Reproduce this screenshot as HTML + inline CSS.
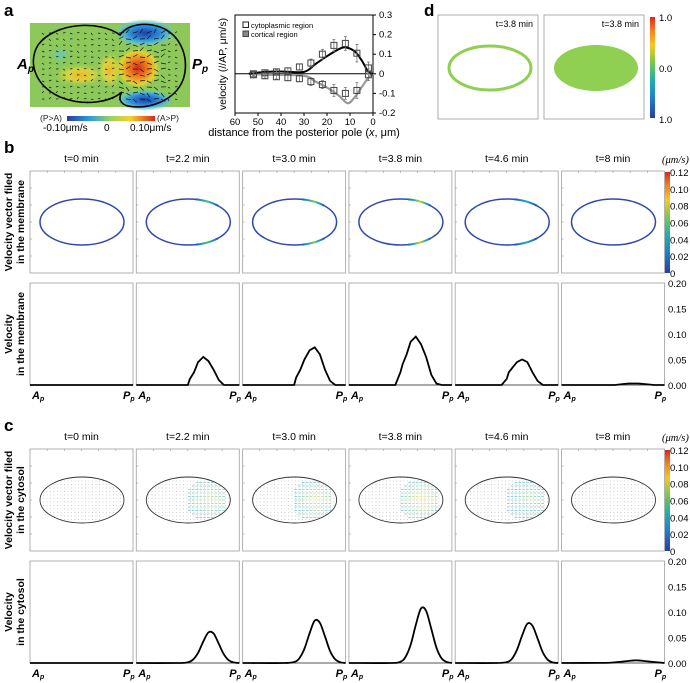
<!DOCTYPE html>
<html><head><meta charset="utf-8">
<style>
html,body{margin:0;padding:0;background:#fff;}
svg{display:block;font-family:"Liberation Sans",Arial,sans-serif;}
</style></head>
<body>
<svg id="fig" width="690" height="683" viewBox="0 0 690 683" xmlns="http://www.w3.org/2000/svg">
<defs>
  <linearGradient id="jetV" x1="0" y1="1" x2="0" y2="0">
    <stop offset="0" stop-color="#2a3b9f"/><stop offset="0.2" stop-color="#1f7fd0"/>
    <stop offset="0.38" stop-color="#22b0a8"/><stop offset="0.55" stop-color="#7ac74f"/>
    <stop offset="0.72" stop-color="#f5c925"/><stop offset="0.87" stop-color="#f4801f"/>
    <stop offset="1" stop-color="#e0231c"/>
  </linearGradient>
  <linearGradient id="jetH" x1="0" y1="0" x2="1" y2="0">
    <stop offset="0" stop-color="#2a3b9f"/><stop offset="0.25" stop-color="#2a9be0"/>
    <stop offset="0.5" stop-color="#9ed25a"/><stop offset="0.72" stop-color="#f6d12a"/>
    <stop offset="1" stop-color="#d8281b"/>
  </linearGradient>
  <radialGradient id="redBlob"><stop offset="0" stop-color="#d8281b"/><stop offset="0.45" stop-color="#f08a22"/><stop offset="0.75" stop-color="#f3d42c" stop-opacity="0.8"/><stop offset="1" stop-color="#8dc85a" stop-opacity="0"/></radialGradient>
  <radialGradient id="yelBlob"><stop offset="0" stop-color="#f2b52a"/><stop offset="0.5" stop-color="#e6d83a" stop-opacity="0.8"/><stop offset="1" stop-color="#8dc85a" stop-opacity="0"/></radialGradient>
  <radialGradient id="blueBlob"><stop offset="0" stop-color="#1d3fa8"/><stop offset="0.5" stop-color="#2d8fdc"/><stop offset="0.8" stop-color="#5cc5d8" stop-opacity="0.7"/><stop offset="1" stop-color="#8dc85a" stop-opacity="0"/></radialGradient>
  <radialGradient id="cyanBlob"><stop offset="0" stop-color="#62c8c8"/><stop offset="1" stop-color="#8dc85a" stop-opacity="0"/></radialGradient>
  <pattern id="dots" width="3.5" height="3.5" patternUnits="userSpaceOnUse"><rect x="1" y="1" width="0.9" height="0.9" fill="#c4c4c4"/></pattern>
</defs>
<g id="root"></g>
</svg>
<script>
// ---------- data ----------
const times = ["t=0 min","t=2.2 min","t=3.0 min","t=3.8 min","t=4.6 min","t=8 min"];
const cbTicks = ["0.12","0.10","0.08","0.06","0.04","0.02","0"];
const cbValues = [0.12,0.10,0.08,0.06,0.04,0.02,0];
const velTicks = [0.20,0.15,0.10,0.05,0.00];
// membrane profiles (position along A->P, fraction; velocity um/s)
const memX = [0,0.45,0.5,0.52,0.56,0.6,0.65,0.7,0.75,0.8,0.85,0.9,1];
const mem0 = [0,0,0,0,0,0,0,0,0,0,0,0,0];
const mem22 = [0,0,0,0.012,0.025,0.045,0.055,0.047,0.03,0.01,0,0,0];
const mem30 = [0,0,0,0.015,0.03,0.05,0.068,0.074,0.06,0.03,0.008,0,0];
const mem38 = [0,0,0.025,0.04,0.06,0.085,0.095,0.08,0.055,0.02,0.003,0,0];
const mem46 = [0,0,0.012,0.025,0.035,0.045,0.05,0.045,0.025,0.008,0,0,0];
const mem8 = [0,0,0,0,0.001,0.002,0.003,0.003,0.003,0.002,0.001,0,0];
// cytosol profiles
const cytX = [0,0.4,0.5,0.55,0.6,0.65,0.7,0.75,0.8,0.85,0.9,0.95,1];
const cyt0 = [0,0,0,0,0,0,0,0,0,0,0,0,0];
const cyt22 = [0,0,0.0014,0.0065,0.02,0.042,0.06,0.058,0.038,0.017,0.005,0.001,0];
const cyt30 = [0,0,0.002,0.009,0.028,0.058,0.083,0.079,0.052,0.023,0.007,0.0014,0];
const cyt38 = [0,0,0.0025,0.012,0.036,0.075,0.107,0.102,0.067,0.03,0.009,0.002,0];
const cyt46 = [0,0,0.0018,0.008,0.026,0.054,0.077,0.073,0.048,0.021,0.006,0.001,0];
const cyt8 = [0,0.0003,0.001,0.002,0.003,0.004,0.005,0.005,0.004,0.003,0.002,0.001,0];
// peak color intensity per time (0..0.12)
const memPeak = [0,0.06,0.07,0.085,0.045,0];
// panel a chart
const distCyto = [52,47,42,37,32,27,22,17,12,7,2];
const cytoVals = [0.0,0.005,0.01,0.015,0.035,0.055,0.1,0.145,0.155,0.105,0.03];
const cytoErr = [0.01,0.012,0.012,0.015,0.015,0.02,0.025,0.03,0.035,0.045,0.03];
const cortVals = [-0.005,-0.01,-0.015,-0.02,-0.025,-0.04,-0.055,-0.085,-0.1,-0.085,-0.005];
const cortErr = [0.01,0.012,0.012,0.015,0.015,0.02,0.02,0.03,0.03,0.04,0.03];
const lineDist = [54,47,40,30,25,20,15,12,8,5,2,0];
const blackLine = [0,0.01,0.012,0.01,0.05,0.09,0.125,0.135,0.115,0.07,0.01,0];
const grayDist = [54,45,30,25,20,15,11,8,5,2,0];
const grayLine = [0,-0.005,-0.01,-0.04,-0.07,-0.11,-0.15,-0.12,-0.07,-0.02,0];
const aXTicks = [60,50,40,30,20,10,0];
const aYTicks = [0.3,0.2,0.1,0,-0.1,-0.2];

const NS="http://www.w3.org/2000/svg";
const root=document.getElementById('root');
function el(tag,attrs,parent,text){const e=document.createElementNS(NS,tag);for(const k in attrs)e.setAttribute(k,attrs[k]);if(text!==undefined)e.textContent=text;(parent||root).appendChild(e);return e;}
function jet(t){t=Math.max(0,Math.min(1,t));const s=[[0,[42,59,159]],[0.2,[31,127,208]],[0.38,[34,176,168]],[0.55,[122,199,79]],[0.72,[245,201,37]],[0.87,[244,128,31]],[1,[224,35,28]]];for(let i=1;i<s.length;i++){if(t<=s[i][0]){const a=s[i-1],b=s[i],f=(t-a[0])/(b[0]-a[0]);return 'rgb('+a[1].map((v,j)=>Math.round(v+(b[1][j]-v)*f)).join(',')+')';}}return 'rgb(224,35,28)';}
function smooth(pts){let d='M'+pts[0][0]+','+pts[0][1];for(let i=0;i<pts.length-1;i++){const p0=pts[Math.max(0,i-1)],p1=pts[i],p2=pts[i+1],p3=pts[Math.min(pts.length-1,i+2)];const c1=[p1[0]+(p2[0]-p0[0])/6,p1[1]+(p2[1]-p0[1])/6],c2=[p2[0]-(p3[0]-p1[0])/6,p2[1]-(p3[1]-p1[1])/6];d+=' C'+c1[0].toFixed(2)+','+c1[1].toFixed(2)+' '+c2[0].toFixed(2)+','+c2[1].toFixed(2)+' '+p2[0].toFixed(2)+','+p2[1].toFixed(2);}return d;}

// ---------- panel letters ----------
[['a',4,16],['b',4,153],['c',4,431],['d',424,16]].forEach(([t,x,y])=>{
  const e=el('text',{x:x,y:y,'font-size':17,'font-weight':'bold'},root,t);
  
  
});

// ---------- panel a: heatmap ----------
const ga=el('g',{});


el('rect',{x:30,y:23,width:160,height:84,fill:'#8dc85a'},ga);
el('ellipse',{cx:60,cy:55,rx:14,ry:10,fill:'url(#cyanBlob)'},ga);
el('ellipse',{cx:80,cy:75,rx:28,ry:12,fill:'url(#yelBlob)'},ga);
el('ellipse',{cx:110,cy:70,rx:14,ry:20,fill:'url(#yelBlob)'},ga);
el('ellipse',{cx:138,cy:68,rx:24,ry:22,fill:'url(#redBlob)'},ga);
el('ellipse',{cx:145,cy:33,rx:32,ry:14,fill:'url(#blueBlob)'},ga);
el('ellipse',{cx:145,cy:100,rx:30,ry:11,fill:'url(#blueBlob)'},ga);
const arrows=el('g',{stroke:'#111','stroke-width':0.7},ga);
for(let yy=33;yy<=100;yy+=6){for(let xx=42;xx<=180;xx+=7){
  const inR=xx>118&&xx<162; const s=inR?5:2.5; const ang=((yy-66)/40)*(xx>118?0.6:-0.4)+(((xx*7+yy*3)%11)-5)*0.12;
  el('line',{x1:xx,y1:yy,x2:(xx+s*Math.cos(ang)).toFixed(1),y2:(yy+s*Math.sin(ang)).toFixed(1)},arrows);}}
el('path',{d:'M120,35 C100,20 55,22 38,45 C28,62 34,85 60,97 C85,107 110,102 122,92 C118,98 120,104 128,106 C150,110 175,100 183,80 C190,60 182,35 160,27 C145,22 128,24 120,35 Z',fill:'none',stroke:'#000','stroke-width':1.6},ga);
[['A',17,'ap-label-a'],['P',192,'pp-label-a']].forEach(([t,x,n])=>{
  const e=el('text',{x:x,y:69,'font-size':15,'font-weight':'bold','font-style':'italic'},root);
  
  
  e.innerHTML=t+'<tspan font-size="10" dy="3">p</tspan>';
});
const cba=el('rect',{x:67,y:116,width:88,height:5,fill:'url(#jetH)'});


el('text',{x:40,y:121,'font-size':8.5,fill:'#222'},root,'(P>A)');
el('text',{x:157,y:121,'font-size':8.5,fill:'#222'},root,'(A>P)');
el('text',{x:43,y:131,'font-size':10},root,'-0.10μm/s');
el('text',{x:104,y:131,'font-size':10},root,'0');
el('text',{x:130,y:131,'font-size':10},root,'0.10μm/s');

// ---------- panel a: chart ----------
const ax0=235,ax1=373,ay0=15,ay1=113;
const xa=d=>ax1-d/60*(ax1-ax0);
const ya=v=>ay0+(0.3-v)/0.5*(ay1-ay0);
const gc=el('g',{});


el('rect',{x:ax0,y:ay0,width:ax1-ax0,height:ay1-ay0,fill:'none',stroke:'#000','stroke-width':1},gc);
el('line',{x1:ax0,y1:ya(0),x2:ax1,y2:ya(0),stroke:'#000','stroke-width':1},gc);
aXTicks.forEach(t=>{el('line',{x1:xa(t),y1:ay1,x2:xa(t),y2:ay1+3,stroke:'#000'},gc);
  const e=el('text',{x:xa(t),y:ay1+12,'font-size':9.5,'text-anchor':'middle'},gc,String(t));
  
  });
aYTicks.forEach(t=>{el('line',{x1:ax1,y1:ya(t),x2:ax1+3,y2:ya(t),stroke:'#000'},gc);
  const e=el('text',{x:ax1+6,y:ya(t)+3,'font-size':9.5},gc,String(t));
  
  });
const xt=el('text',{x:304,y:136,'font-size':11,'text-anchor':'middle'},gc);
xt.innerHTML='distance from the posterior pole (<tspan font-style="italic">x</tspan>, μm)';


const yt=el('text',{x:0,y:0,'font-size':10.5,'text-anchor':'middle',transform:'translate(226,64) rotate(-90)'},gc,'velocity (//AP, μm/s)');


const gl=el('path',{d:smooth(grayDist.map((d,i)=>[xa(d),ya(grayLine[i])])),fill:'none',stroke:'#999','stroke-width':2.2},gc);


const bl=el('path',{d:smooth(lineDist.map((d,i)=>[xa(d),ya(blackLine[i])])),fill:'none',stroke:'#000','stroke-width':2},gc);


distCyto.forEach((d,i)=>{
  [[cytoVals[i],cytoErr[i],'cyto'],[cortVals[i],cortErr[i],'cort']].forEach(([v,er,n])=>{
    el('line',{x1:xa(d),y1:ya(v+er),x2:xa(d),y2:ya(v-er),stroke:'#777','stroke-width':0.8},gc);
    el('line',{x1:xa(d)-1.5,y1:ya(v+er),x2:xa(d)+1.5,y2:ya(v+er),stroke:'#777','stroke-width':0.8},gc);
    el('line',{x1:xa(d)-1.5,y1:ya(v-er),x2:xa(d)+1.5,y2:ya(v-er),stroke:'#777','stroke-width':0.8},gc);
    const r=el('rect',{x:xa(d)-3,y:ya(v)-3,width:6,height:6,fill:'none',stroke:'#444','stroke-width':1},gc);
    
    
  });
});
const lg=el('g',{},gc);


el('rect',{x:243,y:22,width:5.5,height:5.5,fill:'#fff',stroke:'#222'},lg);
el('text',{x:251,y:28,'font-size':7.5},lg,'cytoplasmic region');
el('rect',{x:243,y:31,width:5.5,height:5.5,fill:'#888',stroke:'#444'},lg);
el('text',{x:251,y:37,'font-size':7.5},lg,'cortical region');

// ---------- panel d ----------
[[438,490,false,'d-membrane-box'],[544,596,true,'d-cytosol-box']].forEach(([bx,cx,fill,n])=>{
  const b=el('rect',{x:bx,y:15,width:100,height:104,fill:'#fff',stroke:'#999','stroke-width':0.8});
  
  
  el('ellipse',{cx:cx,cy:68,rx:fill?42:41,ry:fill?23:22,fill:fill?'#8fcf52':'none',stroke:'#8fcf52','stroke-width':fill?0:3});
  el('text',{x:bx+95,y:27,'font-size':9,'text-anchor':'end'},root,'t=3.8 min');
});
const cbd=el('rect',{x:650,y:17,width:5,height:101,fill:'url(#jetV)'});


el('text',{x:659,y:21,'font-size':9.5},root,'1.0');
el('text',{x:659,y:72,'font-size':9.5},root,'0.0');
el('text',{x:659,y:123,'font-size':9.5},root,'1.0');

// ---------- panels b & c ----------
const boxX=i=>30+i*106.3, BW=103;
const memSeries=[mem0,mem22,mem30,mem38,mem46,mem8];
const cytSeries=[cyt0,cyt22,cyt30,cyt38,cyt46,cyt8];
function section(top,kind){
  const topY=top, topH=102, botY=top+112, botH=102;
  const yv=v=>botY+botH-v/0.20*botH;
  times.forEach((t,i)=>{
    const x=boxX(i);
    const tt=el('text',{x:x+BW/2,y:top-9,'font-size':10.5,'text-anchor':'middle'},root,t);
    
    
    const b1=el('rect',{x:x,y:topY,width:BW,height:topH,fill:'#fff',stroke:'#aaa','stroke-width':0.9});
    
    
    for(let k=1;k<6;k++){el('line',{x1:x+k*BW/6,y1:topY,x2:x+k*BW/6,y2:topY+2,stroke:'#999','stroke-width':0.6});
      el('line',{x1:x,y1:topY+k*topH/6,x2:x+2,y2:topY+k*topH/6,stroke:'#999','stroke-width':0.6});}
    const cx=x+52, cy=topY+51;
    const amp=memPeak[i];
    if(kind==='membrane'){
      el('ellipse',{cx:cx,cy:cy,rx:42,ry:23,fill:'none',stroke:'#2e48ad','stroke-width':1.5});
      if(amp>0){
        for(let a=40;a<80;a+=2.5){
          const f=1-Math.abs(a-62)/20; if(f<=0.05)continue;
          const col=jet(amp*f/0.12);
          const t1=a*Math.PI/180, t2=(a+2.5)*Math.PI/180;
          [1,-1].forEach(sg=>{
            el('line',{x1:(cx+42*Math.cos(t1)).toFixed(2),y1:(cy-sg*23*Math.sin(t1)).toFixed(2),x2:(cx+42*Math.cos(t2)).toFixed(2),y2:(cy-sg*23*Math.sin(t2)).toFixed(2),stroke:col,'stroke-width':2});
          });
        }
      }
    } else {
      const clipId='clip'+i+top;
      const cp=el('clipPath',{id:clipId}); el('ellipse',{cx:cx,cy:cy,rx:42,ry:23},cp);
      el('ellipse',{cx:cx,cy:cy,rx:42,ry:23,fill:'url(#dots)'});
      if(amp>0){
        const g=el('g',{'clip-path':'url(#'+clipId+')'});
        for(let r=-21;r<=21;r+=3.5){
          const w=1-Math.abs(r)/24;
          for(let c=0;c<11;c++){
            const xx=cx-4+c*3.8, f=w*(1-Math.abs(c-6.5)/7);
            if(f<=0.12)continue;
            el('line',{x1:xx,y1:cy+r,x2:xx+2.6,y2:cy+r,stroke:jet(0.25+amp*f*1.1/0.12*0.75),'stroke-width':0.9,opacity:0.55},g);
          }
        }
      }
      el('ellipse',{cx:cx,cy:cy,rx:42,ry:23,fill:'none',stroke:'#333','stroke-width':0.9});
    }
    const b2=el('rect',{x:x,y:botY,width:BW,height:botH,fill:'#fff',stroke:'#aaa','stroke-width':0.9});
    
    
    el('line',{x1:x,y1:botY+botH,x2:x+BW,y2:botY+botH,stroke:'#555','stroke-width':1});
    const xs=kind==='membrane'?memX:cytX, vs=kind==='membrane'?memSeries[i]:cytSeries[i];
    const pts=xs.map((f,k)=>[x+f*BW,yv(vs[k])]);
    const path=el('path',{d:kind==='membrane'?'M'+pts.map(p=>p[0].toFixed(1)+','+p[1].toFixed(1)).join(' L'):smooth(pts),fill:'none',stroke:'#000','stroke-width':1.8});
    
    
    [['A',x+2],['P',x+BW-10]].forEach(([l,lx])=>{
      const e=el('text',{x:lx,y:botY+botH+14,'font-size':11,'font-weight':'bold','font-style':'italic'});
      e.innerHTML=l+'<tspan font-size="7" dy="2">p</tspan>';
      
      
    });
  });
  const cb=el('rect',{x:665,y:topY+1,width:5,height:topH-1,fill:'url(#jetV)'});
  
  
  cbValues.forEach((v,k)=>{el('text',{x:670,y:topY+1+(0.12-v)/0.12*(topH-1)+4,'font-size':9.5},root,cbTicks[k]);});
  const u=el('text',{x:662,y:top-8,'font-size':10.5,'font-style':'italic','font-family':'Liberation Serif, serif'},root,'(μm/s)');
  
  
  velTicks.forEach(v=>{el('text',{x:668,y:yv(v)+4,'font-size':9.5},root,v.toFixed(2));});
  const lab1=kind==='membrane'?['Velocity vector filed','in the membrane']:['Velocity vector filed','in the cytosol'];
  const lab2=kind==='membrane'?['Velocity','in the membrane']:['Velocity','in the cytosol'];
  [[lab1,topY+topH/2],[lab2,botY+botH/2]].forEach(([ls,cy])=>{
    const e=el('text',{x:0,y:0,'font-size':10.5,'font-weight':'bold','text-anchor':'middle',transform:'translate(12,'+cy+') rotate(-90)'});
    e.innerHTML='<tspan x="0" dy="0">'+ls[0]+'</tspan><tspan x="0" dy="12">'+ls[1]+'</tspan>';
    
    
  });
}
section(171,'membrane');
section(449,'cytosol');
</script>
</body></html>
